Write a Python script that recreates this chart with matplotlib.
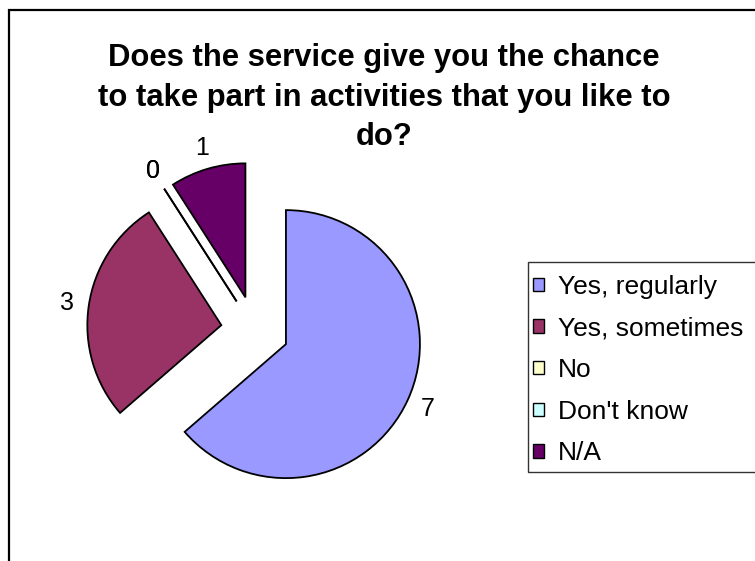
import matplotlib
matplotlib.use("Agg")
import matplotlib.pyplot as plt
from matplotlib.patches import Rectangle, Patch

plt.rcParams['font.family'] = ['Liberation Sans', 'DejaVu Sans']

# Survey responses
categories = ["Yes, regularly", "Yes, sometimes", "No", "Don't know", "N/A"]
counts = [7, 3, 0, 0, 1]
colors = ["#9999FF", "#993366", "#FFFFCC", "#CCFFFF", "#660066"]
title_lines = ["Does the service give you the chance",
               "to take part in activities that you like to",
               "do?"]

W, H = 755, 561
fig = plt.figure(figsize=(W / 100, H / 100), dpi=100)
fig.patch.set_facecolor("white")

# Axes in pixel units (1 unit = 1 px, y upward)
ax = fig.add_axes([0, 0, 1, 1])
ax.set_axis_off()

wedges, texts = ax.pie(
    counts,
    colors=colors,
    labels=[str(c) for c in counts],
    startangle=90,
    counterclock=False,
    center=(255, 231),
    radius=134,
    explode=[34] * len(counts),
    labeldistance=1.16,
    wedgeprops=dict(edgecolor="black", linewidth=1.3),
    textprops=dict(fontsize=18, color="black"),
)
for t in texts:
    t.set_ha("center")
    t.set_va("center")

ax.set_xlim(0, W)
ax.set_ylim(0, H)
ax.set_aspect("auto")

# Chart area border (runs off the right and bottom edges)
ax.add_patch(Rectangle((8.5, -20), 800, H - 9.5 + 20, fill=False,
                       edgecolor="black", linewidth=1.6))

# Titles
title_y = [H - 58, H - 98, H - 137]
for line, y in zip(title_lines, title_y):
    ax.text(384, y, line, ha="center", va="center", fontsize=22.3,
            fontweight="bold", color="black")

handles = [Patch(facecolor=c, edgecolor="black", linewidth=1.0) for c in colors]
leg = fig.legend(handles, categories, loc="upper left",
                 bbox_to_anchor=(520 / W, 1 - 261.5 / H),
                 bbox_transform=fig.transFigure,
                 frameon=False, fontsize=19,
                 handlelength=0.4, handleheight=0.4, handletextpad=0.55,
                 labelspacing=0.67, borderpad=0.5, borderaxespad=0)

# Legend box outline (extends past the right edge)
ax.add_patch(Rectangle((528.3, H - 472), 300, 472 - 261.5, fill=False,
                       edgecolor="#333333", linewidth=1.0))

fig.savefig("out.png", dpi=100, facecolor="white")
